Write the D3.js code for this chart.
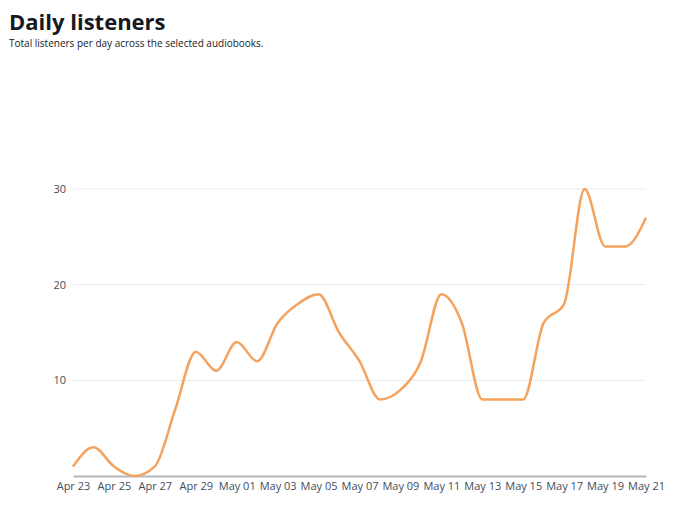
<!DOCTYPE html>
<html>
<head>
<meta charset="utf-8">
<script src="https://cdn.jsdelivr.net/npm/d3@7"></script>
<style>
  body { margin: 0; background: #fff; font-family: "Open Sans", "Noto Sans", sans-serif; }
</style>
</head>
<body>
<svg id="chart" width="680" height="508"></svg>
<script>
// data
var dates = ["2024-04-23","2024-04-24","2024-04-25","2024-04-26","2024-04-27","2024-04-28",
             "2024-04-29","2024-04-30","2024-05-01","2024-05-02","2024-05-03","2024-05-04",
             "2024-05-05","2024-05-06","2024-05-07","2024-05-08","2024-05-09","2024-05-10",
             "2024-05-11","2024-05-12","2024-05-13","2024-05-14","2024-05-15","2024-05-16",
             "2024-05-17","2024-05-18","2024-05-19","2024-05-20","2024-05-21"];
var listeners = [1, 3, 1, 0, 1, 7, 13, 11, 14, 12, 16, 18, 19, 15, 12, 8, 9, 12,
                 19, 16, 8, 8, 8, 16, 18, 30, 24, 24, 27];
var yTicks = [10, 20, 30];

var svg = d3.select("#chart");
var parse = d3.utcParse("%Y-%m-%d");
var data = dates.map(function (d, i) { return { date: parse(d), value: listeners[i] }; });

// title block
svg.append("text").attr("x", 9).attr("y", 30)
    .attr("font-size", 22).attr("font-weight", 700).attr("fill", "#16191f")
    .text("Daily listeners");
svg.append("text").attr("x", 9).attr("y", 47)
    .attr("font-size", 10).attr("fill", "#16191f")
    .text("Total listeners per day across the selected audiobooks.");

var x = d3.scaleUtc()
    .domain(d3.extent(data, function (d) { return d.date; }))
    .range([73, 646]);
var y = d3.scaleLinear().domain([0, 30]).range([476, 189]);

// gridlines
svg.append("g").selectAll("line").data(yTicks).join("line")
    .attr("x1", 73).attr("x2", 646)
    .attr("y1", function (d) { return y(d); }).attr("y2", function (d) { return y(d); })
    .attr("stroke", "#e9ebed").attr("stroke-width", 1);

// y labels
svg.append("g").selectAll("text").data(yTicks).join("text")
    .attr("x", 66).attr("y", function (d) { return y(d); }).attr("dy", "0.35em")
    .attr("text-anchor", "end").attr("font-size", 11).attr("fill", "#414d5c")
    .text(function (d) { return d; });

// x axis
var xAxis = d3.axisBottom(x)
    .tickValues(data.filter(function (d, i) { return i % 2 === 0; }).map(function (d) { return d.date; }))
    .tickFormat(d3.utcFormat("%b %d"))
    .tickSize(0).tickPadding(6);
var gx = svg.append("g").attr("transform", "translate(0," + y(0) + ")").call(xAxis);
gx.select(".domain").attr("stroke", "#b4b9bf").attr("stroke-width", 2);
gx.selectAll("text").attr("font-size", 11).attr("fill", "#414d5c")
    .attr("font-family", "'Open Sans', 'Noto Sans', sans-serif");

// line
var line = d3.line()
    .x(function (d) { return x(d.date); })
    .y(function (d) { return y(d.value); })
    .curve(d3.curveMonotoneX);
svg.append("path").datum(data)
    .attr("d", line)
    .attr("fill", "none")
    .attr("stroke", "#f5a25d")
    .attr("stroke-width", 2.5)
    .attr("stroke-linejoin", "round");
</script>
</body>
</html>
